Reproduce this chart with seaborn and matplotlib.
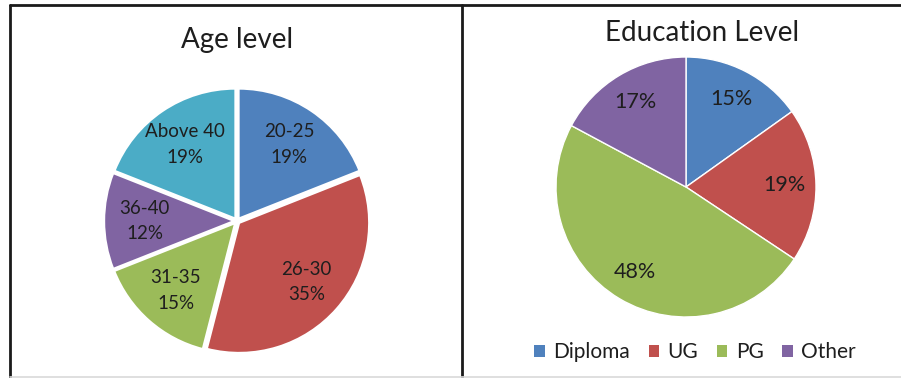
import matplotlib
matplotlib.use("Agg")
import matplotlib.pyplot as plt
from matplotlib.lines import Line2D
from matplotlib.patches import Patch
import seaborn as sns

# Survey breakdowns (percent)
age_groups = ["20-25", "26-30", "31-35", "36-40", "Above 40"]
age_pct = [19, 35, 15, 12, 19]

edu_levels = ["Diploma", "UG", "PG", "Other"]
edu_pct = [15, 19, 48, 17]

age_colors = ["#4F81BD", "#C0504D", "#9BBB59", "#8064A2", "#4BACC6"]
edu_colors = ["#4F81BD", "#C0504D", "#9BBB59", "#8064A2"]

sns.set_theme(style="white")
plt.rcParams["font.family"] = ["Lato", "DejaVu Sans"]
TXT = "#1e1e1e"

W, H = 901, 378
fig = plt.figure(figsize=(W / 100, H / 100), dpi=100)
fig.patch.set_facecolor("white")

PAD = 1.08


def pie_axes(cx, cy, r):
    """Square axes centred on pixel (cx, cy) from the top-left, unit radius = r px."""
    half = r * PAD
    ax = fig.add_axes([(cx - half) / W, (H - cy - half) / H, 2 * half / W, 2 * half / H])
    return ax


def finish(ax):
    ax.set_xlim(-PAD, PAD)
    ax.set_ylim(-PAD, PAD)
    ax.set_aspect("equal")
    ax.axis("off")


# Left panel: age
ax1 = pie_axes(237, 221, 130)
age_text = iter(f"{g}\n{p}%" for g, p in zip(age_groups, age_pct))
ax1.pie(
    age_pct, colors=sns.color_palette(age_colors), startangle=90, counterclock=False,
    explode=[0.022] * len(age_pct), autopct=lambda _: next(age_text), pctdistance=0.69,
    wedgeprops=dict(edgecolor="white", linewidth=1.5),
    textprops=dict(fontsize=13.5, color=TXT, linespacing=1.6),
)
finish(ax1)
fig.text(237 / W, 1 - 40 / H, "Age level", ha="center", va="center", fontsize=20, color=TXT)

# Right panel: education
ax2 = pie_axes(686, 187, 130)
_, _, t2 = ax2.pie(
    edu_pct, colors=sns.color_palette(edu_colors), startangle=90, counterclock=False,
    autopct=lambda p: "", pctdistance=0.76,
    wedgeprops=dict(edgecolor="white", linewidth=1.0),
    textprops=dict(fontsize=15.5, color=TXT),
)
for t, v in zip(t2, edu_pct):
    t.set_text(f"{v}%")
finish(ax2)
fig.text(702 / W, 1 - 33 / H, "Education Level", ha="center", va="center", fontsize=20, color=TXT)

handles = [Patch(facecolor=c, edgecolor="none") for c in edu_colors]
fig.legend(handles, edu_levels, loc="center", bbox_to_anchor=(695 / W, 1 - 352 / H),
           ncol=4, frameon=False, fontsize=15, handlelength=0.5, handleheight=0.5,
           handletextpad=0.4, columnspacing=0.9, labelcolor=TXT)

# Panel frames
frame = dict(color="#1a1a1a", linewidth=2, transform=fig.transFigure)
fig.add_artist(Line2D([10 / W, 1], [1 - 5 / H, 1 - 5 / H], **frame))
fig.add_artist(Line2D([10 / W, 10 / W], [0, 1 - 5 / H], **frame))
fig.add_artist(Line2D([462 / W, 462 / W], [0, 1 - 5 / H], **frame))
fig.add_artist(Line2D([10 / W, 1], [1.5 / H, 1.5 / H], color="#d9d9d9", linewidth=1.2,
                      transform=fig.transFigure))

fig.savefig("out.png", dpi=100, facecolor="white")
